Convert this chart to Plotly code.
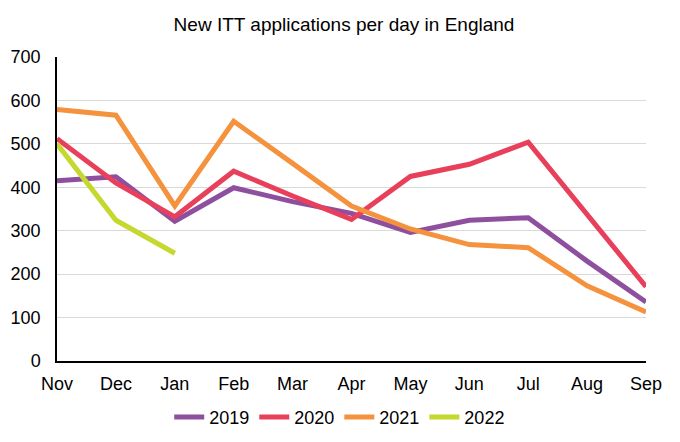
import plotly.graph_objects as go

months = ["Nov", "Dec", "Jan", "Feb", "Mar", "Apr", "May", "Jun", "Jul", "Aug", "Sep"]
y2019 = [415, 424, 322, 399, 367, 340, 296, 324, 330, 230, 136]
y2020 = [512, 410, 332, 437, 380, 326, 425, 453, 504, 337, 171]
y2021 = [579, 566, 357, 552, 455, 357, 304, 268, 261, 173, 113]
y2022 = [500, 324, 248]
series_names = ["2019", "2020", "2021", "2022"]
colors = ["#8E4F9E", "#E8405B", "#F5923E", "#C4D82E"]
yticks = [0, 100, 200, 300, 400, 500, 600, 700]

fig = go.Figure()
for name, vals, col in zip(series_names, [y2019, y2020, y2021, y2022], colors):
    fig.add_trace(go.Scatter(
        x=list(range(len(vals))), y=vals, name=name, mode="lines",
        line=dict(color=col, width=5),
    ))

font_family = "Liberation Sans, Arial, sans-serif"
fig.update_layout(
    width=672, height=434,
    margin=dict(l=49, r=34, t=49, b=81, autoexpand=False),
    paper_bgcolor="white", plot_bgcolor="white",
    font=dict(family=font_family, size=18, color="#000000"),
    title=dict(text="New ITT applications per day in England", x=0.5, xanchor="center",
               y=1 - 16 / 434, yanchor="middle", font=dict(size=19, color="#000000")),
    showlegend=True,
    legend=dict(orientation="h", x=0.48, xanchor="center", y=-0.185, yanchor="middle",
                font=dict(size=18), itemwidth=30, traceorder="normal"),
    xaxis=dict(range=[0, 10], tickmode="array", tickvals=list(range(len(months))),
               ticktext=months, showgrid=False, zeroline=False, automargin=False,
               showline=True, linecolor="#000000", linewidth=1.5, ticks="", ticklen=0,
               ticklabelstandoff=6, tickfont=dict(size=18)),
    yaxis=dict(range=[0, 700], tickmode="array", tickvals=yticks, automargin=False,
               showgrid=True, gridcolor="#D9D9D9", gridwidth=1, zeroline=False,
               showline=True, linecolor="#000000", linewidth=1.5, ticks="",
               ticklabelstandoff=11, tickfont=dict(size=18)),
)

fig.write_html("out.html")
